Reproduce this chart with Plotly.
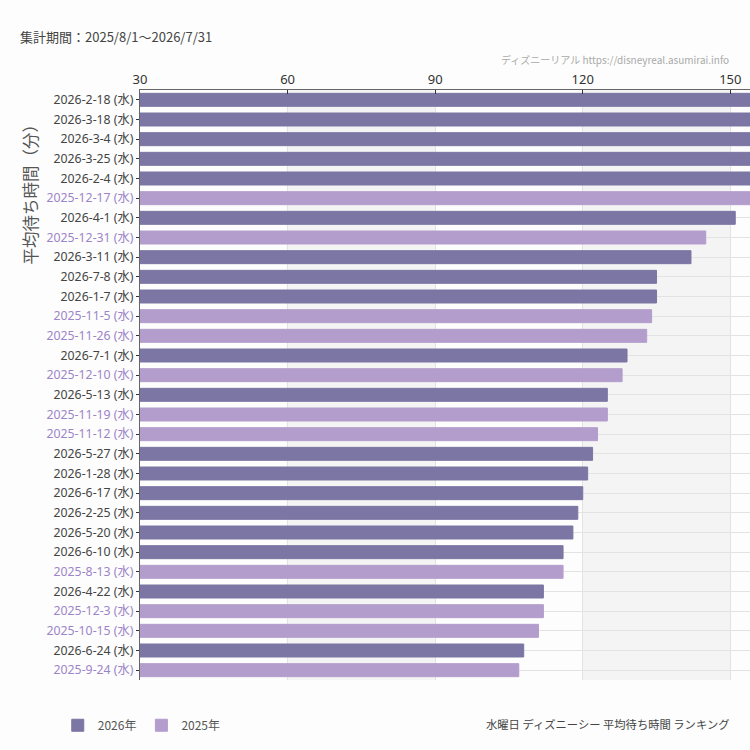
import plotly.graph_objects as go

dates = ["2026-2-18", "2026-3-18", "2026-3-4", "2026-3-25", "2026-2-4", "2025-12-17",
         "2026-4-1", "2025-12-31", "2026-3-11", "2026-7-8", "2026-1-7", "2025-11-5",
         "2025-11-26", "2026-7-1", "2025-12-10", "2026-5-13", "2025-11-19", "2025-11-12",
         "2026-5-27", "2026-1-28", "2026-6-17", "2026-2-25", "2026-5-20", "2026-6-10",
         "2025-8-13", "2026-4-22", "2025-12-3", "2025-10-15", "2026-6-24", "2025-9-24"]
waits = [163, 161, 159, 158, 157, 155,
         151, 145, 142, 135, 135, 134,
         133, 129, 128, 125, 125, 123,
         122, 121, 120, 119, 118, 116,
         116, 112, 112, 111, 108, 107]
x_ticks = [30, 60, 90, 120, 150]
x_range = [30, 154]

C26 = "#7b76a3"
C25 = "#b39dcc"
LBL26 = "#444444"
LBL25 = "#9d84c9"

labels = [f"{d} (水)" for d in dates]
ticktext = [f'<span style="color:{LBL25 if d.startswith("2025") else LBL26}">{d} (水)</span>' for d in dates]

fig = go.Figure()
for yr, col in [("2026", C26), ("2025", C25)]:
    xs = [w for d, w in zip(dates, waits) if d.startswith(yr)]
    ys = [l for d, l in zip(dates, labels) if d.startswith(yr)]
    fig.add_trace(go.Bar(
        x=xs, y=ys, orientation="h", name=f"{yr}年",
        marker=dict(color=col, line=dict(color=col, width=1)),
        width=0.66,
    ))

shapes = []
for i in range(len(x_ticks) - 1):
    if i % 2 == 1:
        shapes.append(dict(type="rect", xref="x", yref="paper", x0=x_ticks[i], x1=x_ticks[i + 1],
                           y0=0, y1=1, fillcolor="#f3f4f3", line=dict(width=0), layer="below"))

PW, PH, L, T = 610, 590, 140, 90


def px(x):
    return (x - L) / PW


def py(y):
    return (T + PH - y) / PH


fig.update_layout(
    width=750, height=750,
    margin=dict(l=L, r=0, t=T, b=70),
    paper_bgcolor="#fcfdfc", plot_bgcolor="rgba(0,0,0,0)",
    barmode="overlay",
    font=dict(family="Noto Sans, Noto Sans CJK JP, sans-serif", color="#444", size=12),
    shapes=shapes,
    showlegend=True,
    legend=dict(orientation="h", xref="container", yref="container", x=0.077, y=0.033,
                xanchor="left", yanchor="middle", font=dict(size=12, color="#555",
                family="Noto Sans CJK JP"),
                bgcolor="rgba(0,0,0,0)", itemwidth=30),
    xaxis=dict(side="top", range=x_range, tickvals=x_ticks, showgrid=True, gridcolor="#e3e3e3",
               gridwidth=1, zeroline=False, ticks="inside", ticklen=4, tickcolor="#333",
               showline=True, linecolor="#666", linewidth=1,
               tickfont=dict(size=13, color="#333")),
    yaxis=dict(categoryorder="array", categoryarray=labels, tickvals=labels, ticktext=ticktext,
               autorange="reversed", showgrid=True, gridcolor="#e3e3e3", ticks="outside",
               ticklen=3, tickcolor="#333", showline=True, linecolor="#666", linewidth=1,
               tickfont=dict(size=12.3)),
    annotations=[
        dict(text="集計期間：2025/8/1～2026/7/31", xref="paper", yref="paper", x=px(18),
             y=py(37), xanchor="left", yanchor="middle", showarrow=False,
             font=dict(size=13, color="#444", family="Noto Sans CJK JP")),
        dict(text="ディズニーリアル https://disneyreal.asumirai.info", xref="paper", yref="paper",
             x=px(731), y=py(59), xanchor="right", yanchor="middle",
             showarrow=False, font=dict(size=10, color="#aaaaaa", family="Noto Sans CJK JP")),
        dict(text="平均待ち時間（分）", xref="paper", yref="paper", x=px(29),
             y=py(113), xanchor="center", yanchor="top", textangle=-90,
             showarrow=False, font=dict(size=16.5, color="#555", family="Noto Sans CJK JP")),
        dict(text="水曜日 ディズニーシー 平均待ち時間 ランキング", xref="paper", yref="paper",
             x=px(731), y=py(724), xanchor="right", yanchor="middle",
             showarrow=False, font=dict(size=11.3, color="#444", family="Noto Sans CJK JP")),
    ],
)

fig.write_html("out.html")
